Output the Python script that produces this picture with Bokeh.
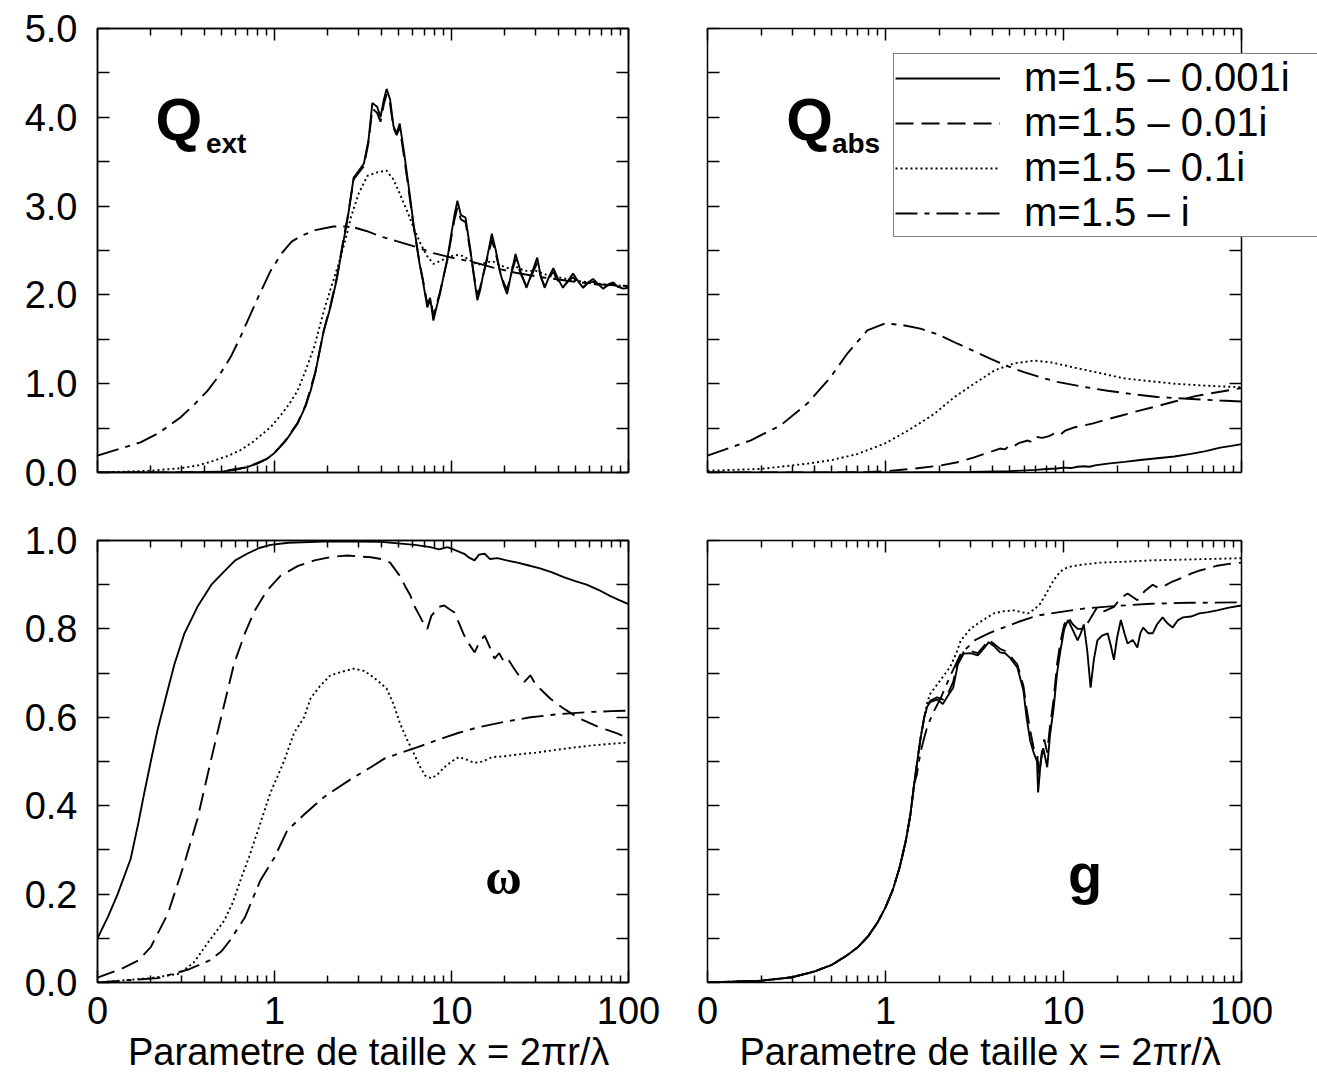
from bokeh.plotting import figure
from bokeh.models import (FixedTicker, LinearAxis, LogAxis, Label, Range1d, Title,
                          CustomJSTickFormatter)
from bokeh.layouts import gridplot
from bokeh.embed import file_html
from bokeh.resources import INLINE

FONT = "Liberation Sans"

# ---------------- data (x = size parameter, y = value) ----------------
series_labels = ["m=1.5 \u2013 0.001i", "m=1.5 \u2013 0.01i", "m=1.5 \u2013 0.1i", "m=1.5 \u2013 i"]

qext_0001 = [(0.1, 0.0), (0.2, 0.0), (0.3, 0.0), (0.4, 0.005), (0.5, 0.01), (0.6, 0.03), (0.7, 0.06),
             (0.8, 0.1), (0.9, 0.15), (1.0, 0.22), (1.15, 0.35), (1.35, 0.55), (1.5, 0.75), (1.6, 0.92),
             (1.7, 1.12), (1.8, 1.37), (1.9, 1.6), (2.07, 1.86), (2.25, 2.18), (2.45, 2.6), (2.6, 2.88),
             (2.8, 3.32), (3.0, 3.4), (3.2, 3.48), (3.4, 3.75), (3.57, 4.16), (3.8, 4.12), (3.97, 4.0),
             (4.15, 4.2), (4.3, 4.32), (4.5, 4.2), (4.7, 3.9), (4.9, 3.82), (5.1, 3.93), (5.4, 3.6),
             (5.8, 3.14), (6.1, 2.8), (6.4, 2.53), (6.6, 2.35), (6.9, 2.15), (7.3, 1.86), (7.6, 1.95),
             (7.9, 1.71), (8.2, 1.85), (8.6, 2.01), (9.0, 2.2), (9.5, 2.42), (10.0, 2.7), (10.4, 2.9),
             (10.8, 3.06), (11.3, 2.9), (12.0, 2.87), (12.8, 2.5), (13.4, 2.2), (14.0, 1.94), (14.5, 2.05),
             (15.0, 2.2), (16.0, 2.45), (16.9, 2.69), (17.8, 2.5), (18.9, 2.24), (19.8, 2.1), (20.6, 2.01),
             (21.8, 2.25), (23.0, 2.46), (24.7, 2.25), (26.5, 2.08), (28.5, 2.25), (30.5, 2.42), (32.0, 2.2),
             (33.6, 2.08), (35.5, 2.2), (37.6, 2.3), (40.0, 2.18), (42.6, 2.08), (45.5, 2.16), (48.6, 2.24),
             (52.0, 2.15), (55.5, 2.08), (59.0, 2.14), (63.0, 2.18), (67.5, 2.12), (72.0, 2.07), (77.0, 2.12),
             (82.0, 2.14), (87.5, 2.09), (93.5, 2.07), (100.0, 2.08)]
qext_001 = [(0.1, 0.0), (0.3, 0.0), (0.5, 0.01), (0.7, 0.06), (0.9, 0.15), (1.0, 0.22), (1.15, 0.36),
            (1.35, 0.56), (1.5, 0.76), (1.7, 1.13), (1.9, 1.6), (2.07, 1.88), (2.25, 2.2), (2.45, 2.62),
            (2.6, 2.9), (2.8, 3.3), (3.0, 3.38), (3.2, 3.45), (3.4, 3.72), (3.57, 4.1), (3.8, 4.05),
            (3.97, 3.95), (4.15, 4.15), (4.3, 4.26), (4.5, 4.15), (4.7, 3.88), (4.9, 3.8), (5.1, 3.88),
            (5.4, 3.55), (5.8, 3.1), (6.1, 2.78), (6.4, 2.52), (6.6, 2.36), (6.9, 2.17), (7.3, 1.9),
            (7.6, 1.97), (7.9, 1.76), (8.2, 1.88), (8.6, 2.03), (9.0, 2.2), (9.5, 2.4), (10.0, 2.66),
            (10.4, 2.85), (10.8, 2.98), (11.3, 2.85), (12.0, 2.82), (12.8, 2.48), (13.4, 2.22), (14.0, 2.0),
            (14.5, 2.08), (15.0, 2.2), (16.0, 2.42), (16.9, 2.62), (17.8, 2.46), (18.9, 2.25), (19.8, 2.13),
            (20.6, 2.06), (21.8, 2.24), (23.0, 2.4), (24.7, 2.23), (26.5, 2.1), (28.5, 2.23), (30.5, 2.36),
            (32.0, 2.2), (33.6, 2.1), (35.5, 2.19), (37.6, 2.26), (40.0, 2.16), (42.6, 2.09), (45.5, 2.15),
            (48.6, 2.2), (52.0, 2.13), (55.5, 2.09), (59.0, 2.13), (63.0, 2.15), (67.5, 2.11), (72.0, 2.08),
            (77.0, 2.11), (82.0, 2.12), (87.5, 2.09), (93.5, 2.08), (100.0, 2.08)]
qext_01 = [(0.1, 0.0), (0.2, 0.02), (0.3, 0.05), (0.37, 0.08), (0.45, 0.13), (0.55, 0.19), (0.64, 0.25),
           (0.75, 0.34), (0.85, 0.43), (0.95, 0.51), (1.1, 0.66), (1.2, 0.76), (1.35, 0.92), (1.5, 1.15),
           (1.68, 1.42), (1.9, 1.82), (2.1, 2.1), (2.27, 2.31), (2.5, 2.6), (2.7, 2.87), (3.0, 3.15),
           (3.35, 3.34), (3.8, 3.38), (4.3, 3.4), (4.7, 3.3), (5.1, 3.14), (5.6, 2.95), (6.1, 2.76),
           (6.6, 2.6), (7.2, 2.45), (7.9, 2.35), (8.6, 2.38), (9.5, 2.42), (10.5, 2.45), (11.5, 2.44),
           (12.5, 2.4), (14.0, 2.34), (15.5, 2.36), (17.0, 2.38), (19.0, 2.33), (21.0, 2.3), (23.0, 2.32),
           (26.0, 2.27), (30.0, 2.27), (35.0, 2.22), (40.0, 2.2), (47.0, 2.17), (55.0, 2.15), (65.0, 2.13),
           (80.0, 2.11), (100.0, 2.1)]
qext_1 = [(0.1, 0.19), (0.13, 0.26), (0.175, 0.34), (0.22, 0.44), (0.294, 0.62), (0.35, 0.76), (0.418, 0.92),
          (0.49, 1.1), (0.565, 1.3), (0.64, 1.52), (0.72, 1.75), (0.82, 2.0), (0.95, 2.27), (1.1, 2.47),
          (1.25, 2.6), (1.4, 2.66), (1.7, 2.73), (2.15, 2.77), (2.7, 2.77), (3.3, 2.72), (4.1, 2.65),
          (5.0, 2.6), (6.1, 2.55), (7.9, 2.47), (10.0, 2.42), (13.3, 2.37), (17.0, 2.31), (23.0, 2.25),
          (32.0, 2.2), (45.0, 2.16), (65.0, 2.12), (100.0, 2.1)]

qabs_0001 = [(0.1, 0.0), (1.0, 0.0), (3.0, 0.005), (5.0, 0.015), (7.0, 0.03), (8.0, 0.04), (9.2, 0.045),
             (10.0, 0.055), (11.0, 0.05), (12.0, 0.065), (13.0, 0.07), (14.0, 0.065), (15.0, 0.08),
             (17.7, 0.1), (22.0, 0.12), (27.0, 0.14), (33.6, 0.16), (42.0, 0.18), (52.0, 0.21), (63.0, 0.24),
             (76.0, 0.28), (88.0, 0.3), (100.0, 0.32)]
qabs_001 = [(0.1, 0.0), (0.5, 0.0), (0.8, 0.005), (1.0, 0.015), (1.4, 0.04), (2.05, 0.08), (2.6, 0.12),
            (3.15, 0.17), (3.7, 0.22), (4.0, 0.24), (4.4, 0.27), (4.7, 0.26), (5.0, 0.31), (5.3, 0.3),
            (5.6, 0.33), (6.3, 0.36), (6.7, 0.34), (7.1, 0.4), (7.6, 0.39), (8.3, 0.41), (8.9, 0.44),
            (9.5, 0.42), (10.2, 0.47), (11.6, 0.51), (13.0, 0.53), (14.5, 0.55), (17.7, 0.6), (22.0, 0.65),
            (27.0, 0.7), (34.0, 0.75), (42.0, 0.8), (55.0, 0.86), (76.0, 0.91), (100.0, 0.95)]
qabs_01 = [(0.1, 0.02), (0.2, 0.04), (0.365, 0.1), (0.5, 0.14), (0.7, 0.21), (1.0, 0.33), (1.33, 0.47),
           (1.6, 0.57), (1.88, 0.66), (2.44, 0.85), (3.15, 1.0), (4.1, 1.15), (5.3, 1.23), (6.9, 1.26),
           (8.5, 1.24), (11.6, 1.18), (16.0, 1.12), (21.9, 1.06), (30.0, 1.03), (42.0, 1.0), (60.0, 0.98),
           (76.0, 0.97), (100.0, 0.96)]
qabs_1 = [(0.1, 0.19), (0.174, 0.36), (0.257, 0.53), (0.365, 0.78), (0.49, 1.07), (0.61, 1.34), (0.79, 1.6),
          (1.0, 1.68), (1.25, 1.66), (1.57, 1.62), (2.0, 1.55), (2.54, 1.45), (3.2, 1.36), (3.9, 1.28),
          (4.8, 1.2), (6.0, 1.13), (7.5, 1.07), (9.2, 1.02), (12.5, 0.97), (17.7, 0.92), (25.0, 0.88),
          (33.6, 0.85), (50.0, 0.83), (76.0, 0.81), (100.0, 0.8)]

omega_0001 = [(0.1, 0.1), (0.115, 0.15), (0.13, 0.2), (0.154, 0.28), (0.17, 0.36), (0.184, 0.43), (0.2, 0.5),
              (0.218, 0.57), (0.245, 0.65), (0.272, 0.72), (0.31, 0.79), (0.367, 0.85), (0.44, 0.9),
              (0.52, 0.93), (0.6, 0.955), (0.7, 0.97), (0.82, 0.983), (0.95, 0.99), (1.2, 0.995), (2.07, 0.998),
              (4.0, 0.997), (6.2, 0.99), (7.6, 0.985), (8.5, 0.98), (9.5, 0.985), (10.5, 0.978), (11.8, 0.97),
              (12.5, 0.962), (13.5, 0.955), (14.3, 0.968), (15.4, 0.97), (16.5, 0.958), (18.2, 0.96),
              (20.5, 0.955), (23.6, 0.95), (27.0, 0.944), (31.6, 0.937), (37.0, 0.928), (43.0, 0.917),
              (50.0, 0.908), (58.0, 0.9), (68.0, 0.888), (79.0, 0.874), (90.0, 0.864), (100.0, 0.856)]
omega_001 = [(0.1, 0.011), (0.135, 0.03), (0.17, 0.05), (0.2, 0.08), (0.25, 0.156), (0.31, 0.27), (0.367, 0.37),
             (0.43, 0.49), (0.476, 0.565), (0.59, 0.72), (0.68, 0.79), (0.77, 0.84), (0.9, 0.885), (1.08, 0.92),
             (1.35, 0.942), (1.68, 0.955), (2.1, 0.963), (2.58, 0.966), (3.0, 0.964), (3.5, 0.962), (4.0, 0.958),
             (4.5, 0.95), (5.1, 0.92), (5.5, 0.895), (5.85, 0.876), (6.2, 0.85), (6.6, 0.83), (7.0, 0.81),
             (7.3, 0.8), (7.7, 0.83), (8.0, 0.837), (8.5, 0.85), (9.1, 0.853), (9.7, 0.845), (10.4, 0.837),
             (11.1, 0.81), (11.8, 0.785), (12.6, 0.765), (13.5, 0.747), (14.4, 0.77), (15.4, 0.785),
             (16.4, 0.76), (17.5, 0.733), (18.6, 0.745), (19.9, 0.724), (21.0, 0.73), (22.6, 0.71),
             (24.0, 0.695), (25.8, 0.68), (27.9, 0.695), (29.5, 0.678), (31.6, 0.665), (33.5, 0.655),
             (36.0, 0.643), (39.0, 0.632), (43.0, 0.62), (47.0, 0.61), (53.0, 0.597), (58.0, 0.59),
             (66.0, 0.58), (75.0, 0.572), (87.0, 0.563), (100.0, 0.552)]
omega_01 = [(0.1, 0.0), (0.2, 0.01), (0.29, 0.02), (0.35, 0.045), (0.42, 0.09), (0.52, 0.14), (0.58, 0.18),
            (0.64, 0.23), (0.72, 0.285), (0.8, 0.34), (0.88, 0.39), (0.95, 0.43), (1.13, 0.5), (1.29, 0.565),
            (1.47, 0.6), (1.6, 0.643), (1.8, 0.67), (2.07, 0.695), (2.4, 0.703), (2.8, 0.71), (3.2, 0.705),
            (3.5, 0.695), (3.9, 0.68), (4.3, 0.665), (4.7, 0.63), (5.1, 0.588), (5.6, 0.55), (6.1, 0.52),
            (6.6, 0.49), (7.1, 0.468), (7.7, 0.462), (8.3, 0.47), (9.0, 0.485), (10.0, 0.5), (11.0, 0.51),
            (12.0, 0.505), (13.5, 0.497), (15.0, 0.5), (17.0, 0.51), (20.0, 0.512), (25.0, 0.517),
            (30.0, 0.52), (40.0, 0.527), (50.0, 0.532), (65.0, 0.537), (80.0, 0.54), (100.0, 0.543)]
omega_1 = [(0.1, 0.0), (0.22, 0.01), (0.33, 0.03), (0.43, 0.05), (0.5, 0.07), (0.56, 0.095), (0.68, 0.147),
           (0.83, 0.23), (1.0, 0.283), (1.18, 0.344), (1.47, 0.38), (1.91, 0.42), (2.7, 0.46), (3.5, 0.487),
           (4.2, 0.507), (5.2, 0.52), (6.5, 0.533), (8.5, 0.55), (11.0, 0.565), (14.0, 0.577), (20.0, 0.59),
           (28.0, 0.6), (40.0, 0.607), (60.0, 0.612), (80.0, 0.614), (100.0, 0.615)]

g_rise = [(0.1, 0.0), (0.2, 0.004), (0.3, 0.012), (0.4, 0.025), (0.5, 0.04), (0.6, 0.06), (0.7, 0.08),
          (0.8, 0.105), (0.9, 0.135), (1.0, 0.17), (1.1, 0.21), (1.2, 0.26), (1.3, 0.32), (1.38, 0.38),
          (1.45, 0.45)]
g_0001 = g_rise + [(1.52, 0.51), (1.57, 0.55), (1.65, 0.6), (1.72, 0.625), (1.79, 0.635), (1.95, 0.64),
                   (2.1, 0.63), (2.25, 0.65), (2.4, 0.667), (2.55, 0.72), (2.75, 0.744), (3.0, 0.745),
                   (3.3, 0.74), (3.55, 0.755), (3.8, 0.77), (4.1, 0.76), (4.4, 0.747), (4.7, 0.745),
                   (5.0, 0.735), (5.5, 0.713), (5.96, 0.66), (6.2, 0.6), (6.5, 0.547), (6.8, 0.52), (7.1, 0.5),
                   (7.2, 0.43), (7.45, 0.5), (7.7, 0.53), (8.1, 0.487), (8.4, 0.56), (8.8, 0.62), (9.2, 0.7),
                   (9.6, 0.75), (10.1, 0.8), (10.6, 0.82), (11.2, 0.8), (12.0, 0.774), (12.5, 0.79), (13.0, 0.81),
                   (13.6, 0.75), (14.2, 0.667), (14.8, 0.73), (15.5, 0.774), (16.5, 0.785), (17.7, 0.79),
                   (18.5, 0.76), (19.2, 0.73), (20.0, 0.78), (21.0, 0.82), (22.0, 0.79), (22.9, 0.767),
                   (24.5, 0.775), (26.0, 0.758), (27.0, 0.79), (28.0, 0.803), (30.0, 0.79), (31.7, 0.79),
                   (33.5, 0.81), (36.0, 0.826), (38.5, 0.812), (41.0, 0.803), (44.0, 0.82), (47.0, 0.826),
                   (52.0, 0.828), (58.0, 0.835), (65.0, 0.838), (73.0, 0.842), (85.0, 0.848), (100.0, 0.853)]
g_001 = g_rise + [(1.52, 0.51), (1.57, 0.55), (1.65, 0.6), (1.72, 0.628), (1.79, 0.638), (1.95, 0.645),
                  (2.1, 0.64), (2.25, 0.655), (2.4, 0.68), (2.55, 0.725), (2.75, 0.748), (3.0, 0.75),
                  (3.3, 0.745), (3.55, 0.76), (3.8, 0.775), (4.1, 0.765), (4.4, 0.755), (4.7, 0.75), (5.0, 0.74),
                  (5.5, 0.72), (5.96, 0.67), (6.2, 0.62), (6.5, 0.57), (6.8, 0.53), (7.1, 0.52), (7.3, 0.47),
                  (7.55, 0.52), (7.8, 0.55), (8.1, 0.52), (8.4, 0.58), (8.8, 0.64), (9.2, 0.72), (9.6, 0.77),
                  (10.1, 0.81), (10.6, 0.826), (11.3, 0.81), (12.0, 0.8), (13.0, 0.8), (14.0, 0.82),
                  (15.5, 0.85), (17.0, 0.84), (19.2, 0.85), (21.0, 0.87), (22.9, 0.88), (24.5, 0.872),
                  (26.0, 0.865), (28.5, 0.885), (31.7, 0.9), (34.0, 0.893), (36.0, 0.895), (40.0, 0.905),
                  (47.0, 0.917), (52.0, 0.925), (58.0, 0.932), (65.0, 0.937), (73.0, 0.943), (85.0, 0.947),
                  (100.0, 0.95)]
g_01 = g_rise + [(1.52, 0.51), (1.57, 0.55), (1.65, 0.6), (1.72, 0.635), (1.79, 0.654), (2.0, 0.68),
                 (2.3, 0.713), (2.5, 0.745), (2.65, 0.774), (3.0, 0.8), (3.3, 0.812), (3.7, 0.825),
                 (4.05, 0.835), (4.6, 0.84), (5.25, 0.842), (5.8, 0.838), (6.3, 0.835), (6.9, 0.845),
                 (7.4, 0.857), (8.0, 0.88), (8.8, 0.91), (9.6, 0.93), (10.6, 0.94), (12.5, 0.945),
                 (16.2, 0.95), (22.0, 0.952), (31.0, 0.955), (50.0, 0.957), (100.0, 0.96)]
g_1 = g_rise + [(1.5, 0.47), (1.57, 0.52), (1.64, 0.55), (1.72, 0.58), (1.85, 0.61), (2.05, 0.645),
                (2.35, 0.7), (2.65, 0.744), (3.2, 0.775), (3.8, 0.79), (4.4, 0.8), (5.5, 0.815), (7.1, 0.83),
                (9.5, 0.838), (13.0, 0.846), (20.0, 0.852), (31.0, 0.857), (50.0, 0.859), (100.0, 0.86)]

x_tick_values = [0.1, 1, 10, 100]
x_minor_values = [0.2, 0.3, 0.4, 0.5, 0.6, 0.7, 0.8, 0.9, 2, 3, 4, 5, 6, 7, 8, 9,
                  20, 30, 40, 50, 60, 70, 80, 90]
q_y_ticks = [0, 1, 2, 3, 4, 5]
q_y_minor = [0.5, 1.5, 2.5, 3.5, 4.5]
w_y_ticks = [0.0, 0.2, 0.4, 0.6, 0.8, 1.0]
w_y_minor = [0.1, 0.3, 0.5, 0.7, 0.9]
x_title = "Parametre de taille x = 2\u03c0r/\u03bb"

STYLES = [("solid", 1.9), ("18 8", 1.9), ("2 3", 1.9), ("22 7 5 7", 1.9)]
TEXT_SIZE = "38px"
LEGEND_SIZE = "40px"

# ---------------- helpers ----------------
def make_axis(kind, ticks, minor, code, labels, **extra):
    ax = kind(ticker=FixedTicker(ticks=ticks, minor_ticks=minor),
              formatter=CustomJSTickFormatter(code=code), **extra)
    ax.axis_line_color = "black"
    ax.axis_line_width = 1.5
    ax.major_tick_in = 12
    ax.major_tick_out = 0
    ax.minor_tick_in = 7
    ax.minor_tick_out = 0
    ax.major_tick_line_color = "black"
    ax.minor_tick_line_color = "black"
    ax.major_tick_line_width = 1.5
    ax.minor_tick_line_width = 1.5
    if labels:
        ax.major_label_text_font = FONT
        ax.major_label_text_font_size = TEXT_SIZE
        ax.major_label_text_color = "black"
    else:
        ax.major_label_text_font_size = "2px"
        ax.major_label_text_alpha = 0.0
        ax.major_label_standoff = 0
    return ax


XFMT = "return tick < 0.5 ? '0' : String(Math.round(tick));"
YFMT = "return tick.toFixed(1);"


def make_panel(width, height, borders, ymax, yt, ym, show_x, show_y, extend_right=0):
    l, r, t, b = borders
    frame_w = width - l - r
    # when extend_right > 0 the frame runs on past x=100 (room for the legend);
    # the right edge of the box is then drawn as an axis fixed at x=100
    x_end = 100 * 10 ** (3 * extend_right / (frame_w - extend_right)) if extend_right else 100
    p = figure(width=width, height=height, x_axis_type="log",
               x_range=Range1d(0.1, x_end), y_range=Range1d(0, ymax),
               output_backend="svg", toolbar_location=None,
               x_axis_location=None, y_axis_location=None,
               min_border_left=l, min_border_right=r, min_border_top=t, min_border_bottom=b)
    p.background_fill_color = "white"
    p.border_fill_color = "white"
    p.xgrid.visible = False
    p.ygrid.visible = False

    bx = make_axis(LogAxis, x_tick_values, x_minor_values, XFMT, show_x)
    tx = make_axis(LogAxis, x_tick_values, x_minor_values, XFMT, False)
    ly = make_axis(LinearAxis, yt, ym, YFMT, show_y)
    ly.minor_tick_in = 12
    if show_x:
        bx.major_label_standoff = 14
    if show_y:
        ly.major_label_standoff = 20
    p.add_layout(bx, "below")
    p.add_layout(tx, "above")
    p.add_layout(ly, "left")
    if show_x:
        # x-axis title, centred under the box (0.1 .. 100)
        plot_w = frame_w - extend_right
        text_w = 470
        p.add_layout(Title(text=x_title, align="left", offset=(plot_w - text_w) / 2,
                           text_font=FONT, text_font_size=TEXT_SIZE, text_font_style="normal",
                           text_color="black", standoff=4), "below")
    if extend_right:
        p.outline_line_color = None
        bx.bounds = (0.1, 100)
        tx.bounds = (0.1, 100)
        ry = make_axis(LinearAxis, yt, ym, YFMT, False, fixed_location=100)
        ry.major_tick_in = 0
        ry.minor_tick_in = 0
        ry.major_tick_out = 12
        ry.minor_tick_out = 12
        p.add_layout(ry, "left")
    else:
        p.outline_line_color = "black"
        p.outline_line_width = 1.5
        ry = make_axis(LinearAxis, yt, ym, YFMT, False)
        ry.minor_tick_in = 12
        p.add_layout(ry, "right")
    return p


def draw(p, data_list, legend=False):
    for i, d in enumerate(data_list):
        xs = [a for a, _ in d]
        ys = [b for _, b in d]
        dash, lw = STYLES[i]
        kw = dict(legend_label=series_labels[i]) if legend else {}
        p.line(xs, ys, line_color="black", line_width=lw, line_dash=dash, **kw)


W1, W2 = 667, 650
H1, H2 = 506, 581

p1 = make_panel(W1, H1, (97, 39, 28, 34), 5, q_y_ticks, q_y_minor, False, True)
p2 = make_panel(W2, H1, (40, 0, 28, 34), 5, q_y_ticks, q_y_minor, False, False, extend_right=76)
p3 = make_panel(W1, H2, (97, 39, 34, 105), 1, w_y_ticks, w_y_minor, True, True)
p4 = make_panel(W2, H2, (40, 0, 34, 105), 1, w_y_ticks, w_y_minor, True, False, extend_right=76)

draw(p1, [qext_0001, qext_001, qext_01, qext_1])
draw(p2, [qabs_0001, qabs_001, qabs_01, qabs_1], legend=True)
draw(p3, [omega_0001, omega_001, omega_01, omega_1])
draw(p4, [g_0001, g_001, g_01, g_1])

# legend
lg = p2.legend[0]
lg.location = (186, 235)
lg.border_line_color = "black"
lg.border_line_width = 1.5
lg.background_fill_color = "white"
lg.background_fill_alpha = 1.0
lg.label_text_font = FONT
lg.label_text_font_size = LEGEND_SIZE
lg.label_text_color = "black"
lg.glyph_width = 105
lg.glyph_height = 30
lg.label_height = 30
lg.label_standoff = 24
lg.spacing = 0
lg.padding = 1
lg.margin = 0
lg.label_width = 340

# panel titles
def add_text(p, x, y, text, size, style="bold", font=FONT):
    p.add_layout(Label(x=x, y=y, text=text, text_font=font, text_font_size=size,
                       text_font_style=style, text_color="black", text_baseline="alphabetic"))

add_text(p1, 0.213, 3.98, "Q", "60px")
add_text(p1, 0.41, 3.70, "ext", "28px")
add_text(p2, 0.277, 3.98, "Q", "60px")
add_text(p2, 0.50, 3.70, "abs", "28px")
add_text(p3, 15.5, 0.238, "\u03c9", "50px", font="Liberation Serif")
add_text(p4, 10.6, 0.247, "g", "56px")

grid = gridplot([[p1, p2], [p3, p4]], toolbar_location=None)

with open("out.html", "w") as f:
    f.write(file_html(grid, INLINE))
